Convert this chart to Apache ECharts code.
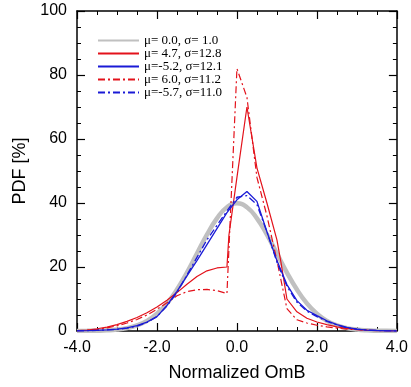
<!DOCTYPE html>
<html><head><meta charset="utf-8">
<script src="https://cdn.jsdelivr.net/npm/echarts@6/dist/echarts.min.js"></script>
<style>html,body{margin:0;padding:0;background:#fff}#c{width:411px;height:387px}</style>
</head><body><div id="c"></div>
<script>
const xs = [-4,-3.75,-3.5,-3.25,-3,-2.75,-2.5,-2.25,-2,-1.75,-1.5,-1.25,-1,-0.75,-0.5,-0.25,0,0.25,0.5,0.75,1,1.25,1.5,1.75,2,2.25,2.5,2.75,3,3.25,3.5,3.75,4];
const grayY = [0.01,0.04,0.09,0.2,0.44,0.91,1.75,3.17,5.4,8.63,12.95,18.26,24.2,30.11,35.21,38.67,39.89,38.67,35.21,30.11,24.2,18.26,12.95,8.63,5.4,3.17,1.75,0.91,0.44,0.2,0.09,0.04,0.01];
const redSolidX = [-4,-3.75,-3.5,-3.25,-3,-2.75,-2.5,-2.25,-2,-1.75,-1.5,-1.25,-1,-0.75,-0.5,-0.25,-0.2,0,0.25,0.5,0.75,1,1.1,1.25,1.5,1.75,2,2.25,2.5,2.75,3,3.25,3.5,3.75,4];
const redSolidY = [0.1,0.3,0.7,1.2,2.0,3.0,4.2,5.7,7.5,9.6,12.0,14.6,17.0,18.8,19.7,20,30,48,70,51,40,28.5,21.5,10,6,4,2.8,2.0,1.3,0.8,0.5,0.25,0.1,0.05,0];
const redDashY = [0.05,0.2,0.5,1.0,1.6,2.5,3.6,5.0,6.8,8.8,11.0,12.3,12.9,13.0,12.6,11.7,82,73,48,36,22,7,3.5,2.5,1.8,1.3,0.9,0.6,0.4,0.2,0.1,0.05,0];
const blueSolidY = [0.02,0.1,0.2,0.35,0.6,1.0,1.7,2.8,4.5,8.0,12.4,17.2,22,27,32,37,41,43.6,40.5,31,22,14.5,9.5,6.5,4.8,3.2,2.0,1.1,0.6,0.3,0.15,0.05,0];
const blueDashY = [0.02,0.1,0.2,0.35,0.5,0.9,1.5,2.7,4.5,7.8,12.0,17.5,23,28.5,33,37.5,41.8,42.3,39.5,31,21.5,14,9,6.2,4.5,3.0,1.9,1.0,0.55,0.3,0.15,0.05,0];
const legendNames = ['μ= 0.0, σ= 1.0','μ= 4.7, σ=12.8','μ=-5.2, σ=12.1','μ= 6.0, σ=11.2','μ=-5.7, σ=11.0'];
const xTicks = [-4,-2,0,2,4];
const yTicks = [0,20,40,60,80,100];

const pair = (x, y) => x.map((v, i) => [v, y[i]]);
const RED = '#e3121b', BLUE = '#1a1ad6', GRAY = '#c0c0c0';
const dashDot = [7,3,2,3];
function line(name, data, color, width, type, z, smooth) {
  return {name, type:'line', data, symbol:'none', showSymbol:false, smooth:smooth||false, z,
    lineStyle:{color, width, type}, itemStyle:{color}};
}
const chart = echarts.init(document.getElementById('c'), null, {renderer:'canvas'});
const axFont = {fontFamily:'Liberation Sans', fontSize:16, color:'#000'};
const nameFont = {fontFamily:'Liberation Sans', fontSize:18, color:'#000'};
function frameAxis(extra) {
  return Object.assign({
    axisLine:{show:true, onZero:false, lineStyle:{color:'#000', width:1.5}},
    axisTick:{show:true, inside:true, length:8, lineStyle:{color:'#000', width:1.2}},
    minorTick:{show:true, splitNumber:4, length:4, lineStyle:{color:'#000', width:1}},
    splitLine:{show:false}}, extra);
}
chart.setOption({
  animation:false,
  grid:{left:77, right:11, top:11, bottom:54},
  legend:{orient:'vertical', left:92, top:29, itemWidth:41, itemHeight:13, itemGap:0,
    itemStyle:{opacity:0},
    data:legendNames, textStyle:{fontFamily:'Liberation Serif', fontSize:13, lineHeight:13, color:'#000'}, selectedMode:false},
  xAxis:[frameAxis({type:'value', min:-4, max:4, interval:2,
    name:'Normalized OmB', nameLocation:'middle', nameGap:33, nameTextStyle:nameFont,
    axisLabel:{...axFont, margin:9, formatter:v => v.toFixed(1)}}),
   frameAxis({type:'value', min:-4, max:4, interval:2, position:'top', axisLabel:{show:false}})],
  yAxis:[frameAxis({type:'value', min:0, max:100, interval:20,
    name:'PDF [%]', nameLocation:'middle', nameGap:44, nameTextStyle:nameFont,
    axisLabel:{...axFont, margin:10}}),
   frameAxis({type:'value', min:0, max:100, interval:20, position:'right', axisLabel:{show:false}})],
  series:[
    line(legendNames[0], pair(xs, grayY), GRAY, 4.5, 'solid', 1, true),
    line(legendNames[1], pair(redSolidX, redSolidY), RED, 1.2, 'solid', 3),
    line(legendNames[2], pair(xs, blueSolidY), BLUE, 1.3, 'solid', 4),
    line(legendNames[3], pair(xs, redDashY), RED, 1.2, dashDot, 3),
    line(legendNames[4], pair(xs, blueDashY), BLUE, 1.3, dashDot, 4)
  ]
});
</script></body></html>
